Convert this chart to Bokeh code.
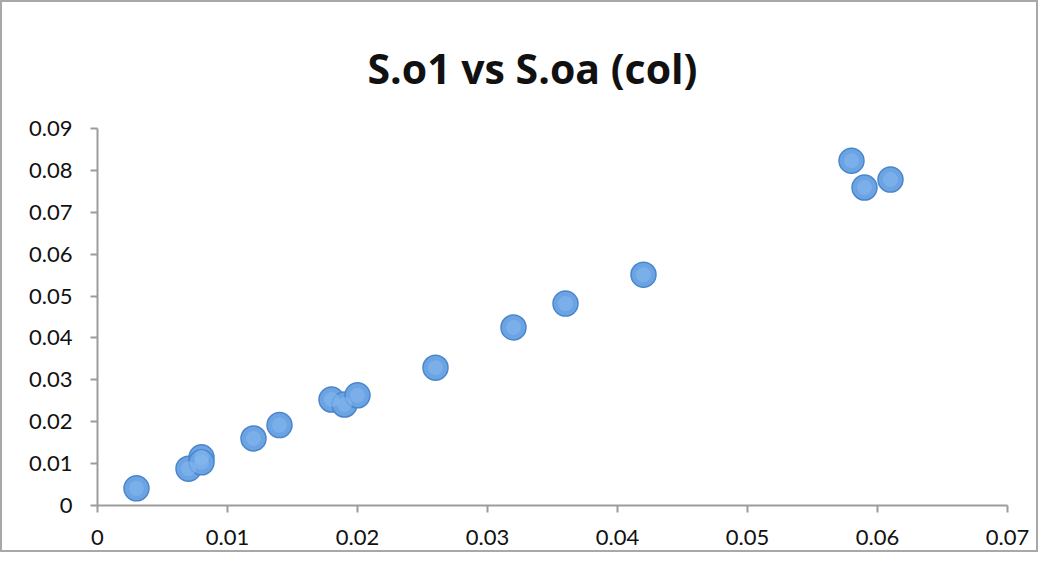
from bokeh.plotting import figure
from bokeh.models import Range1d, FixedTicker, Title
from bokeh.embed import file_html
from bokeh.resources import INLINE

# Data
x_vals = [0.003, 0.007, 0.008, 0.008, 0.012, 0.014, 0.018, 0.019, 0.020,
          0.026, 0.032, 0.036, 0.042, 0.058, 0.059, 0.061]
y_vals = [0.0041, 0.0088, 0.0115, 0.0103, 0.0160, 0.0192, 0.0253, 0.0241, 0.0263,
          0.0329, 0.0425, 0.0482, 0.0551, 0.0823, 0.0759, 0.0778]
x_ticks = [0, 0.01, 0.02, 0.03, 0.04, 0.05, 0.06, 0.07]
y_ticks = [0, 0.01, 0.02, 0.03, 0.04, 0.05, 0.06, 0.07, 0.08, 0.09]
title_text = "S.o1 vs S.oa (col)"

FONT = "Lato"
AXIS_COLOR = "#9c9c9c"

p = figure(width=1038, height=552, output_backend="svg", toolbar_location=None,
           x_range=Range1d(0, 0.07), y_range=Range1d(0, 0.09),
           min_border_left=95, min_border_right=33, min_border_top=126,
           min_border_bottom=49, title=None,
           styles={"border": "2px solid #a8a8a8"})

t = Title(text=title_text, text_font="Open Sans", text_font_size="41px",
          text_font_style="bold", text_color="#111111", align="left",
          offset=270, standoff=66)
p.add_layout(t, "above")

p.outline_line_color = None
p.grid.grid_line_color = None
p.background_fill_color = "white"
p.border_fill_color = "white"

for ax in (p.xaxis, p.yaxis):
    ax.axis_line_color = AXIS_COLOR
    ax.axis_line_width = 2
    ax.major_tick_line_color = AXIS_COLOR
    ax.major_tick_line_width = 2
    ax.major_tick_out = 7
    ax.major_tick_in = 0
    ax.minor_tick_line_color = None
    ax.major_label_text_font = FONT
    ax.major_label_text_font_size = "22px"
    ax.major_label_text_color = "#111111"

p.xaxis.ticker = FixedTicker(ticks=x_ticks)
p.yaxis.ticker = FixedTicker(ticks=y_ticks)
p.xaxis.major_label_overrides = {v: ("0" if v == 0 else f"{v:.2f}") for v in x_ticks}
p.yaxis.major_label_overrides = {v: ("0" if v == 0 else f"{v:.2f}") for v in y_ticks}
p.xaxis.major_label_standoff = 17
p.yaxis.major_label_standoff = 18

p.scatter(x_vals, y_vals, size=25, marker="circle",
          fill_color="#6ca3e3", line_color="#4a86cc", line_width=1.5)
p.scatter(x_vals, y_vals, size=15, marker="circle",
          fill_color="#86b9ee", fill_alpha=0.55, line_color=None)

open("out.html", "w").write(file_html(p, INLINE))
